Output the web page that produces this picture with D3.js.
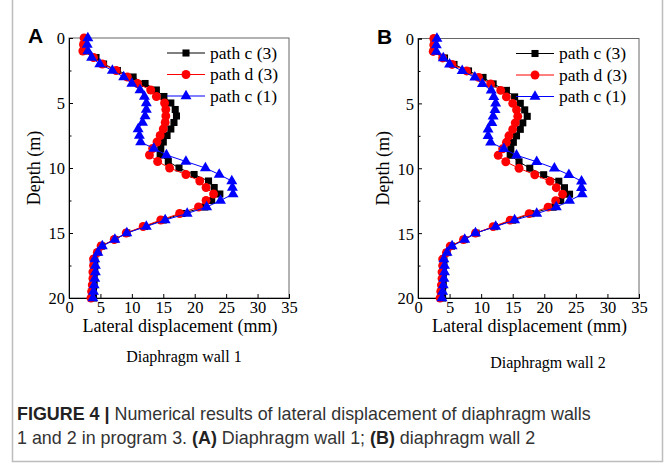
<!DOCTYPE html>
<html>
<head>
<meta charset="utf-8">
<script src="https://cdn.jsdelivr.net/npm/d3@7"></script>
<style>
  body { margin: 0; background: #fff; }
  svg { display: block; }
  .tick text { font-family: "Liberation Serif", "Times New Roman", serif; font-size: 16.5px; fill: #000; }
  .lbl { font-family: "Liberation Serif", "Times New Roman", serif; font-size: 18px; fill: #000; }
  .ttl { font-family: "Liberation Serif", "Times New Roman", serif; font-size: 16px; fill: #000; }
  .leg { font-family: "Liberation Serif", "Times New Roman", serif; font-size: 17.5px; fill: #000; }
  .cap { font-family: "Liberation Sans", Arial, sans-serif; font-size: 17.9px; fill: #333; }
</style>
</head>
<body>
<div id="chart"></div>
<script>
// depth of each reading (m)
const depths = d3.range(0, 20.01, 0.5);

// wall 1 lateral displacement (mm)
const wall1PathC3 = [2.6, 2.4, 2.4, 4.3, 5.5, 7.7, 10.2, 12.1, 13.9, 15.1, 16.2, 16.9, 17.1, 16.7, 16.2, 15.6, 15.0, 14.6, 14.5, 15.8, 17.5, 19.9, 22.2, 23.1, 24.0, 22.7, 21.6, 18.0, 15.0, 12.0, 9.2, 7.3, 5.2, 4.6, 4.1, 4.1, 4.1, 4.0, 4.0, 3.9, 3.9];
const wall1PathD3 = [2.4, 2.3, 2.2, 3.9, 5.3, 7.5, 9.3, 10.9, 13.0, 13.9, 15.2, 15.4, 15.4, 15.3, 15.0, 14.5, 14.0, 13.3, 12.8, 14.1, 16.0, 18.6, 20.8, 21.8, 23.0, 21.8, 20.6, 17.6, 14.6, 11.8, 9.1, 7.2, 5.1, 4.5, 3.9, 3.9, 3.8, 3.8, 3.7, 3.6, 3.5];
const wall1PathC1 = [3.0, 2.9, 3.0, 3.6, 4.9, 6.9, 8.7, 10.0, 11.3, 12.0, 12.3, 12.3, 12.1, 11.7, 11.0, 11.2, 11.4, 13.5, 15.5, 18.6, 21.7, 23.9, 25.9, 26.0, 26.1, 24.1, 21.9, 18.8, 15.3, 12.3, 9.2, 7.3, 5.3, 4.6, 4.1, 4.2, 4.2, 4.1, 4.0, 3.9, 3.8];

// wall 2 lateral displacement (mm)
const wall2PathC3 = [2.7, 2.5, 2.5, 4.2, 5.7, 8.0, 10.3, 11.9, 14.0, 15.3, 16.2, 16.9, 17.3, 16.6, 16.2, 15.6, 15.1, 14.7, 14.6, 16.0, 17.7, 19.9, 22.3, 23.2, 24.0, 22.6, 21.4, 17.9, 15.0, 12.1, 9.2, 7.3, 5.3, 4.6, 4.1, 4.1, 4.0, 4.0, 4.0, 3.9, 3.9];
const wall2PathD3 = [2.5, 2.5, 2.4, 3.9, 5.4, 7.7, 9.6, 11.5, 13.1, 14.0, 15.0, 15.6, 15.8, 15.4, 15.0, 14.4, 14.0, 13.4, 12.7, 13.9, 16.0, 18.5, 20.9, 21.9, 22.9, 21.8, 20.6, 17.6, 14.6, 11.9, 9.1, 7.2, 5.1, 4.5, 3.9, 3.9, 3.8, 3.8, 3.7, 3.6, 3.5];
const wall2PathC1 = [3.0, 2.9, 2.9, 4.0, 5.0, 7.0, 9.0, 10.2, 11.6, 12.0, 12.3, 12.2, 11.9, 11.7, 11.1, 11.1, 11.5, 13.6, 15.6, 18.8, 21.6, 23.9, 25.9, 25.9, 26.0, 24.0, 21.9, 18.8, 15.3, 12.3, 9.1, 7.4, 5.4, 4.6, 4.1, 4.2, 4.2, 4.1, 4.0, 3.9, 3.8];

const seriesNames = ['path c (3)', 'path d (3)', 'path c (1)'];
const seriesColors = ['#000000', '#ff0000', '#0000ff'];
const seriesShapes = [d3.symbolSquare, d3.symbolCircle, d3.symbolTriangle];
const seriesSizes = [50, 62, 52];
const xTicks = [0, 5, 10, 15, 20, 25, 30, 35];
const yTicks = [0, 5, 10, 15, 20];

const W = 665, H = 463;
const svg = d3.select('#chart').append('svg')
    .attr('width', W)
    .attr('height', H);

// outer figure frame
svg.append('path')
    .attr('d', `M12.5,0 V461.5 H662.5 V0`)
    .attr('fill', 'none')
    .attr('stroke', '#bdbdbd')
    .attr('stroke-width', 1.5);

const panels = [
    {letter: 'A', left: 69, right: 289, top: 38, bottom: 298, title: 'Diaphragm wall 1', titleX: 184, titleY: 362,
     series: [wall1PathC3, wall1PathD3, wall1PathC1]},
    {letter: 'B', left: 418, right: 639, top: 38.5, bottom: 298, title: 'Diaphragm wall 2', titleX: 548, titleY: 368,
     series: [wall2PathC3, wall2PathD3, wall2PathC1]}
];

panels.forEach(p => {
    const x = d3.scaleLinear().domain([0, 35]).range([p.left, p.right]);
    const y = d3.scaleLinear().domain([0, 20]).range([p.top, p.bottom]);
    const g = svg.append('g');

    // frame
    g.append('rect')
        .attr('x', p.left).attr('y', p.top)
        .attr('width', p.right - p.left).attr('height', p.bottom - p.top)
        .attr('fill', 'none').attr('stroke', '#666').attr('stroke-width', 1);

    // axes with inward ticks
    const yAxis = d3.axisLeft(y).tickValues(yTicks).tickSize(-4).tickPadding(4).tickFormat(d3.format('d'));
    g.append('g').attr('transform', `translate(${p.left},0)`).call(yAxis)
        .call(s => s.select('.domain').attr('stroke', '#000'))
        .call(s => s.selectAll('.tick text').attr('dy', '0.36em'));
    g.append('g').attr('transform', `translate(${p.left},0)`)
        .call(d3.axisLeft(y).tickValues([2.5, 7.5, 12.5, 17.5]).tickSize(-2.5).tickFormat(''))
        .call(s => s.select('.domain').remove());

    const xAxis = d3.axisBottom(x).tickValues(xTicks).tickSize(-4).tickPadding(3).tickFormat(d3.format('d'));
    g.append('g').attr('transform', `translate(0,${p.bottom})`).call(xAxis)
        .call(s => s.select('.domain').attr('stroke', '#000'));

    // axis titles
    g.append('text').attr('class', 'lbl')
        .attr('x', (p.left + p.right) / 2 + 1).attr('y', p.bottom + 34)
        .attr('text-anchor', 'middle')
        .text('Lateral displacement (mm)');
    g.append('text').attr('class', 'lbl')
        .attr('transform', `translate(${p.left - 29},${(p.top + p.bottom) / 2}) rotate(-90)`)
        .attr('text-anchor', 'middle')
        .text('Depth (m)');

    // panel letter
    svg.append('text')
        .attr('x', p.left - 41).attr('y', p.top + 5)
        .attr('font-family', '"Liberation Sans", Arial, sans-serif')
        .attr('font-weight', 'bold').attr('font-size', 21)
        .text(p.letter);

    // series
    const line = d3.line().x(d => x(d[0])).y(d => y(d[1]));
    p.series.forEach((vals, i) => {
        const pts = vals.map((v, k) => [v, depths[k]]);
        g.append('path')
            .attr('d', line(pts))
            .attr('fill', 'none')
            .attr('stroke', seriesColors[i])
            .attr('stroke-width', 1);
        g.selectAll(null).data(pts).enter().append('path')
            .attr('transform', d => `translate(${x(d[0])},${y(d[1])})`)
            .attr('d', d3.symbol().type(seriesShapes[i]).size(seriesSizes[i]))
            .attr('fill', seriesColors[i]);
    });

    // legend
    const lx = p.left + 98;
    seriesNames.forEach((name, i) => {
        const ly = p.top + 15 + i * 21.5;
        g.append('line')
            .attr('x1', lx).attr('x2', lx + 38)
            .attr('y1', ly).attr('y2', ly)
            .attr('stroke', seriesColors[i]).attr('stroke-width', 1);
        g.append('path')
            .attr('transform', `translate(${lx + 19},${ly})`)
            .attr('d', d3.symbol().type(seriesShapes[i]).size(seriesSizes[i]))
            .attr('fill', seriesColors[i]);
        g.append('text').attr('class', 'leg')
            .attr('x', lx + 43).attr('y', ly + 5.5)
            .text(name);
    });

    // panel title under the chart
    svg.append('text').attr('class', 'ttl')
        .attr('x', p.titleX).attr('y', p.titleY)
        .attr('text-anchor', 'middle')
        .text(p.title);
});

// caption
const cap1 = svg.append('text').attr('class', 'cap').attr('x', 17).attr('y', 420);
cap1.append('tspan').attr('font-weight', 'bold').attr('fill', '#222').text('FIGURE 4 | ');
cap1.append('tspan').text('Numerical results of lateral displacement of diaphragm walls');

const cap2 = svg.append('text').attr('class', 'cap').attr('x', 17).attr('y', 444);
cap2.append('tspan').text('1 and 2 in program 3. ');
cap2.append('tspan').attr('font-weight', 'bold').attr('fill', '#222').text('(A)');
cap2.append('tspan').text(' Diaphragm wall 1; ');
cap2.append('tspan').attr('font-weight', 'bold').attr('fill', '#222').text('(B)');
cap2.append('tspan').text(' diaphragm wall 2');
</script>
</body>
</html>
